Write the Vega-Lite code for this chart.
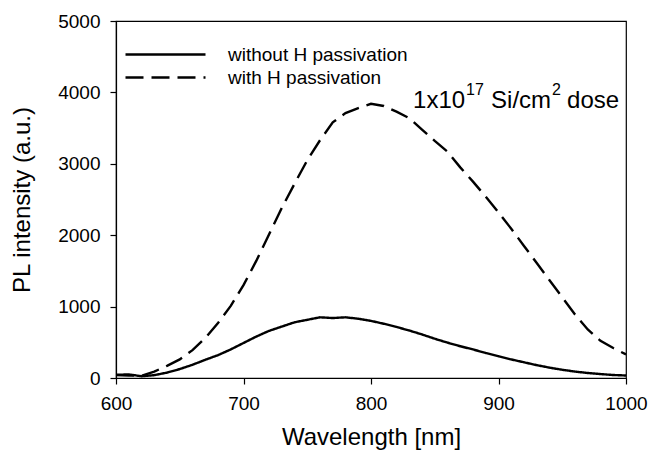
{
  "$schema": "https://vega.github.io/schema/vega-lite/v6.json",
  "width": 510,
  "height": 357,
  "autosize": "none",
  "padding": {"left": 116, "top": 21, "right": 22, "bottom": 74},
  "background": "white",
  "config": {
    "font": "Liberation Sans",
    "view": {"stroke": "black", "strokeWidth": 1.2},
    "axis": {
      "domainColor": "black", "domainWidth": 1.2, "tickColor": "black", "tickWidth": 1.2, "tickSize": 6,
      "grid": false, "labelFont": "Liberation Sans", "labelFontSize": 19, "labelColor": "black",
      "titleFont": "Liberation Sans", "titleFontSize": 24, "titleFontWeight": "normal", "titleColor": "black"
    }
  },
  "data": {"values": [
    {"s": "without H passivation", "x": 600, "y": 45},
    {"s": "without H passivation", "x": 610, "y": 50},
    {"s": "without H passivation", "x": 620, "y": 25},
    {"s": "without H passivation", "x": 630, "y": 40},
    {"s": "without H passivation", "x": 640, "y": 75},
    {"s": "without H passivation", "x": 650, "y": 125},
    {"s": "without H passivation", "x": 660, "y": 185},
    {"s": "without H passivation", "x": 670, "y": 255},
    {"s": "without H passivation", "x": 680, "y": 320},
    {"s": "without H passivation", "x": 690, "y": 400},
    {"s": "without H passivation", "x": 700, "y": 490},
    {"s": "without H passivation", "x": 710, "y": 580},
    {"s": "without H passivation", "x": 720, "y": 660},
    {"s": "without H passivation", "x": 730, "y": 720},
    {"s": "without H passivation", "x": 740, "y": 780},
    {"s": "without H passivation", "x": 750, "y": 815},
    {"s": "without H passivation", "x": 760, "y": 850},
    {"s": "without H passivation", "x": 770, "y": 840},
    {"s": "without H passivation", "x": 780, "y": 850},
    {"s": "without H passivation", "x": 790, "y": 830},
    {"s": "without H passivation", "x": 800, "y": 800},
    {"s": "without H passivation", "x": 810, "y": 760},
    {"s": "without H passivation", "x": 820, "y": 715},
    {"s": "without H passivation", "x": 830, "y": 665},
    {"s": "without H passivation", "x": 840, "y": 610},
    {"s": "without H passivation", "x": 850, "y": 550},
    {"s": "without H passivation", "x": 860, "y": 495},
    {"s": "without H passivation", "x": 870, "y": 445},
    {"s": "without H passivation", "x": 880, "y": 400},
    {"s": "without H passivation", "x": 890, "y": 350},
    {"s": "without H passivation", "x": 900, "y": 305},
    {"s": "without H passivation", "x": 910, "y": 260},
    {"s": "without H passivation", "x": 920, "y": 220},
    {"s": "without H passivation", "x": 930, "y": 180},
    {"s": "without H passivation", "x": 940, "y": 145},
    {"s": "without H passivation", "x": 950, "y": 115},
    {"s": "without H passivation", "x": 960, "y": 90},
    {"s": "without H passivation", "x": 970, "y": 70},
    {"s": "without H passivation", "x": 980, "y": 55},
    {"s": "without H passivation", "x": 990, "y": 42},
    {"s": "without H passivation", "x": 1000, "y": 35},
    {"s": "with H passivation", "x": 600, "y": 40},
    {"s": "with H passivation", "x": 610, "y": 35},
    {"s": "with H passivation", "x": 620, "y": 30},
    {"s": "with H passivation", "x": 630, "y": 90},
    {"s": "with H passivation", "x": 640, "y": 170},
    {"s": "with H passivation", "x": 650, "y": 260},
    {"s": "with H passivation", "x": 660, "y": 390},
    {"s": "with H passivation", "x": 670, "y": 560},
    {"s": "with H passivation", "x": 680, "y": 770},
    {"s": "with H passivation", "x": 690, "y": 1010},
    {"s": "with H passivation", "x": 700, "y": 1300},
    {"s": "with H passivation", "x": 710, "y": 1640},
    {"s": "with H passivation", "x": 720, "y": 2010},
    {"s": "with H passivation", "x": 730, "y": 2380},
    {"s": "with H passivation", "x": 740, "y": 2720},
    {"s": "with H passivation", "x": 750, "y": 3050},
    {"s": "with H passivation", "x": 760, "y": 3330},
    {"s": "with H passivation", "x": 770, "y": 3580},
    {"s": "with H passivation", "x": 780, "y": 3710},
    {"s": "with H passivation", "x": 790, "y": 3780},
    {"s": "with H passivation", "x": 800, "y": 3840},
    {"s": "with H passivation", "x": 810, "y": 3810},
    {"s": "with H passivation", "x": 820, "y": 3730},
    {"s": "with H passivation", "x": 830, "y": 3640},
    {"s": "with H passivation", "x": 840, "y": 3480},
    {"s": "with H passivation", "x": 850, "y": 3320},
    {"s": "with H passivation", "x": 860, "y": 3170},
    {"s": "with H passivation", "x": 870, "y": 2950},
    {"s": "with H passivation", "x": 880, "y": 2750},
    {"s": "with H passivation", "x": 890, "y": 2540},
    {"s": "with H passivation", "x": 900, "y": 2320},
    {"s": "with H passivation", "x": 910, "y": 2090},
    {"s": "with H passivation", "x": 920, "y": 1850},
    {"s": "with H passivation", "x": 930, "y": 1610},
    {"s": "with H passivation", "x": 940, "y": 1370},
    {"s": "with H passivation", "x": 950, "y": 1130},
    {"s": "with H passivation", "x": 960, "y": 890},
    {"s": "with H passivation", "x": 970, "y": 680},
    {"s": "with H passivation", "x": 980, "y": 520},
    {"s": "with H passivation", "x": 990, "y": 420},
    {"s": "with H passivation", "x": 1000, "y": 330}
  ]},
  "layer": [
    {
      "mark": {"type": "line", "color": "black", "strokeWidth": 2.4, "clip": true},
      "encoding": {
        "x": {"field": "x", "type": "quantitative", "title": "Wavelength [nm]",
              "scale": {"domain": [600, 1000], "nice": false, "zero": false},
              "axis": {"values": [600, 700, 800, 900, 1000], "format": "d", "labelPadding": 10, "titlePadding": 12, "labelFlush": false}},
        "y": {"field": "y", "type": "quantitative", "title": "PL intensity (a.u.)",
              "scale": {"domain": [0, 5000], "nice": false},
              "axis": {"values": [0, 1000, 2000, 3000, 4000, 5000], "format": "d", "labelPadding": 10, "titlePadding": 23}},
        "strokeDash": {"field": "s", "type": "nominal",
              "scale": {"domain": ["without H passivation", "with H passivation"], "range": [[1, 0], [18, 8]]},
              "legend": {"title": null, "orient": "none", "legendX": 40, "legendY": 24,
                         "symbolType": "M-8,0H8", "symbolSize": 100, "symbolStrokeColor": "black",
                         "symbolStrokeWidth": 2.6, "symbolFillColor": "transparent",
                         "labelFontSize": 19, "labelFont": "Liberation Sans", "labelColor": "black",
                         "labelLimit": 400, "labelOffset": 53, "rowPadding": 3}},
        "detail": {"field": "s"}
      }
    },
    {
      "data": {"values": [{"x": 833, "y": 3780, "t": "1x10"}]},
      "mark": {"type": "text", "align": "left", "baseline": "alphabetic", "fontSize": 24, "font": "Liberation Sans", "color": "black"},
      "encoding": {"x": {"field": "x", "type": "quantitative"}, "y": {"field": "y", "type": "quantitative"}, "text": {"field": "t"}}
    },
    {
      "data": {"values": [{"x": 833, "y": 3780, "t": "17"}]},
      "mark": {"type": "text", "align": "left", "baseline": "alphabetic", "fontSize": 16, "font": "Liberation Sans", "color": "black", "dx": 53, "dy": -13},
      "encoding": {"x": {"field": "x", "type": "quantitative"}, "y": {"field": "y", "type": "quantitative"}, "text": {"field": "t"}}
    },
    {
      "data": {"values": [{"x": 833, "y": 3780, "t": "Si/cm"}]},
      "mark": {"type": "text", "align": "left", "baseline": "alphabetic", "fontSize": 24, "font": "Liberation Sans", "color": "black", "dx": 78},
      "encoding": {"x": {"field": "x", "type": "quantitative"}, "y": {"field": "y", "type": "quantitative"}, "text": {"field": "t"}}
    },
    {
      "data": {"values": [{"x": 833, "y": 3780, "t": "2"}]},
      "mark": {"type": "text", "align": "left", "baseline": "alphabetic", "fontSize": 16, "font": "Liberation Sans", "color": "black", "dx": 139, "dy": -13},
      "encoding": {"x": {"field": "x", "type": "quantitative"}, "y": {"field": "y", "type": "quantitative"}, "text": {"field": "t"}}
    },
    {
      "data": {"values": [{"x": 833, "y": 3780, "t": "dose"}]},
      "mark": {"type": "text", "align": "left", "baseline": "alphabetic", "fontSize": 24, "font": "Liberation Sans", "color": "black", "dx": 154},
      "encoding": {"x": {"field": "x", "type": "quantitative"}, "y": {"field": "y", "type": "quantitative"}, "text": {"field": "t"}}
    }
  ]
}
